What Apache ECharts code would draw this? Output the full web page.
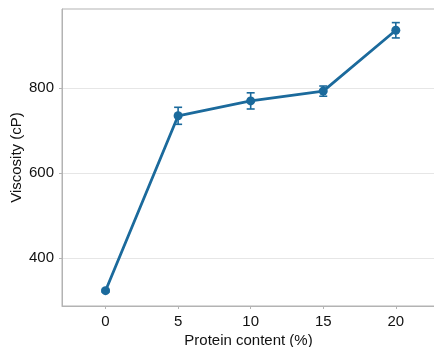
<!DOCTYPE html>
<html>
<head>
<meta charset="utf-8">
<script src="https://cdn.jsdelivr.net/npm/echarts@6/dist/echarts.min.js"></script>
<style>
  html, body { margin: 0; padding: 0; background: #fff; }
  #chart { width: 434px; height: 347px; }
</style>
</head>
<body>
<div id="chart"></div>
<script>
// data
const protein = [0, 5, 10, 15, 20];
const viscosity = [324, 735, 770, 793, 936];
const viscErr = [3, 20, 19, 12, 18];
const xTicks = [0, 5, 10, 15, 20];
const yTicks = [400, 600, 800];

const blue = "#1b6a9c";
const axisGrey = "#b3b3b3";

const points = protein.map((p, i) => [p, viscosity[i]]);
const errData = protein.map((p, i) => [p, viscosity[i] - viscErr[i], viscosity[i] + viscErr[i]]);

const chart = echarts.init(document.getElementById("chart"));
chart.setOption({
  animation: false,
  textStyle: { fontFamily: "Liberation Sans, Arial, sans-serif" },
  grid: {
    left: 62,
    right: -1,
    top: 9,
    bottom: 41,
    outerBoundsMode: "none",
    show: true,
    borderColor: axisGrey,
    borderWidth: 1
  },
  xAxis: {
    type: "value",
    min: -3,
    max: 22.7,
    name: "Protein content (%)",
    nameLocation: "middle",
    nameGap: 27,
    nameMoveOverlap: false,
    nameTextStyle: { fontSize: 15, color: "#111" },
    axisLine: { show: true, onZero: false, lineStyle: { color: axisGrey } },
    axisTick: { show: true, length: 3, customValues: xTicks, lineStyle: { color: axisGrey } },
    axisLabel: { customValues: xTicks, fontSize: 15, color: "#111", margin: 8 },
    splitLine: { show: false }
  },
  yAxis: {
    type: "value",
    min: 288,
    max: 986,
    name: "Viscosity (cP)",
    nameLocation: "middle",
    nameGap: 38,
    nameMoveOverlap: false,
    nameTextStyle: { fontSize: 15, color: "#111" },
    axisLine: { show: true, onZero: false, lineStyle: { color: axisGrey } },
    axisTick: { show: true, length: 3, customValues: yTicks, lineStyle: { color: axisGrey } },
    axisLabel: { customValues: yTicks, fontSize: 15, color: "#111", margin: 8 },
    splitLine: { show: true, lineStyle: { color: "#e6e6e6" } }
  },
  series: [
    {
      type: "line",
      data: points,
      symbol: "circle",
      symbolSize: 9,
      lineStyle: { color: blue, width: 2.8 },
      itemStyle: { color: blue },
      z: 3
    },
    {
      type: "custom",
      data: errData,
      z: 4,
      renderItem: function (params, api) {
        const x = api.value(0);
        const lo = api.coord([x, api.value(1)]);
        const hi = api.coord([x, api.value(2)]);
        const cap = 4;
        const style = { stroke: blue, lineWidth: 1.6, fill: null };
        return {
          type: "group",
          children: [
            { type: "line", shape: { x1: lo[0], y1: lo[1], x2: hi[0], y2: hi[1] }, style: style },
            { type: "line", shape: { x1: lo[0] - cap, y1: lo[1], x2: lo[0] + cap, y2: lo[1] }, style: style },
            { type: "line", shape: { x1: hi[0] - cap, y1: hi[1], x2: hi[0] + cap, y2: hi[1] }, style: style }
          ]
        };
      }
    }
  ]
});
window.addEventListener("resize", function () {
  chart.resize();
});
</script>
</body>
</html>
